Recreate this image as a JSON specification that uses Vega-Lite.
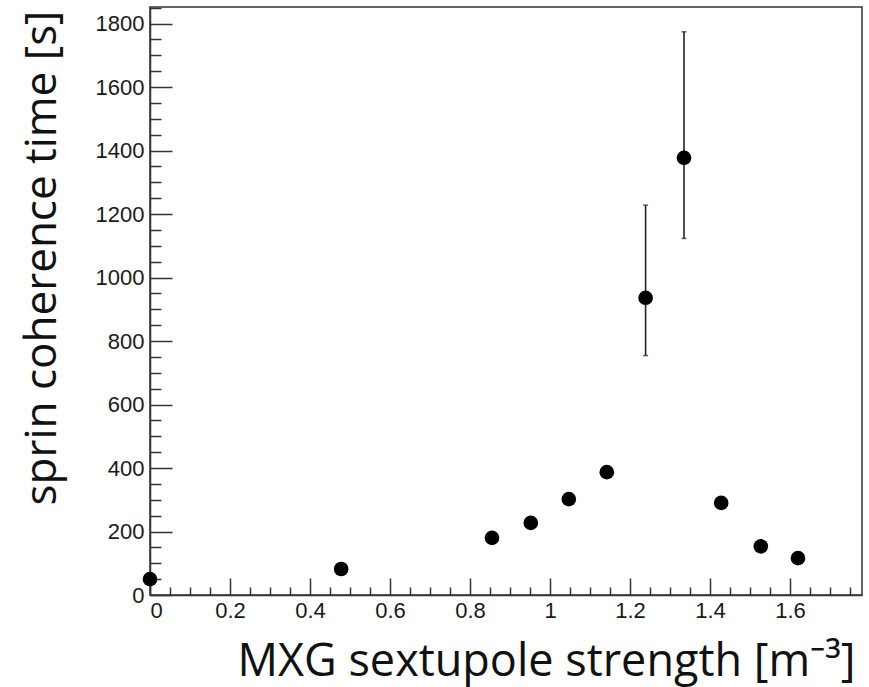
{
  "$schema": "https://vega.github.io/schema/vega-lite/v6.json",
  "width": 712,
  "height": 588,
  "autosize": {"type": "none"},
  "padding": {"left": 150, "top": 7, "right": 7, "bottom": 92},
  "background": "white",
  "config": {
    "view": {"stroke": "#333", "strokeWidth": 1.5},
    "axis": {
      "grid": false,
      "domainColor": "#333",
      "domainWidth": 1.5,
      "tickColor": "#333",
      "tickWidth": 1.5,
      "labelFont": "Liberation Sans",
      "labelFontSize": 22,
      "labelColor": "#1a1a1a",
      "titleFont": "Open Sans",
      "titleFontWeight": "normal",
      "titleColor": "#111"
    }
  },
  "data": {
    "values": [
      {"x": 0.0, "y": 50, "lo": null, "hi": null},
      {"x": 0.478, "y": 82, "lo": null, "hi": null},
      {"x": 0.855, "y": 180, "lo": null, "hi": null},
      {"x": 0.952, "y": 227, "lo": null, "hi": null},
      {"x": 1.047, "y": 302, "lo": null, "hi": null},
      {"x": 1.142, "y": 387, "lo": null, "hi": null},
      {"x": 1.239, "y": 936, "lo": 754, "hi": 1228},
      {"x": 1.335, "y": 1377, "lo": 1123, "hi": 1774},
      {"x": 1.428, "y": 290, "lo": null, "hi": null},
      {"x": 1.527, "y": 153, "lo": null, "hi": null},
      {"x": 1.620, "y": 116, "lo": null, "hi": null}
    ]
  },
  "layer": [
    {
      "transform": [{"filter": "isValid(datum.hi)"}],
      "mark": {"type": "rule", "color": "#222", "strokeWidth": 1.6},
      "encoding": {
        "x": {
          "field": "x", "type": "quantitative",
          "scale": {"domain": [0, 1.78], "nice": false, "zero": false},
          "axis": {
            "orient": "bottom", "title": null, "labels": false, "domain": false,
            "tickSize": -8,
            "values": [0.05,0.1,0.15,0.25,0.3,0.35,0.45,0.5,0.55,0.65,0.7,0.75,0.85,0.9,0.95,1.05,1.1,1.15,1.25,1.3,1.35,1.45,1.5,1.55,1.65,1.7,1.75]
          }
        },
        "y": {
          "field": "lo", "type": "quantitative",
          "scale": {"domain": [0, 1852], "nice": false},
          "axis": {
            "orient": "left", "title": null, "labels": false, "domain": false,
            "tickSize": -11,
            "values": [50,100,150,250,300,350,450,500,550,650,700,750,850,900,950,1050,1100,1150,1250,1300,1350,1450,1500,1550,1650,1700,1750,1850]
          }
        },
        "y2": {"field": "hi"}
      }
    },
    {
      "transform": [{"filter": "isValid(datum.hi)"}],
      "mark": {"type": "tick", "orient": "horizontal", "color": "#222", "size": 5, "thickness": 1.5},
      "encoding": {
        "x": {"field": "x", "type": "quantitative", "axis": null},
        "y": {"field": "hi", "type": "quantitative", "axis": null}
      }
    },
    {
      "transform": [{"filter": "isValid(datum.lo)"}],
      "mark": {"type": "tick", "orient": "horizontal", "color": "#222", "size": 5, "thickness": 1.5},
      "encoding": {
        "x": {"field": "x", "type": "quantitative", "axis": null},
        "y": {"field": "lo", "type": "quantitative", "axis": null}
      }
    },
    {
      "mark": {"type": "point", "filled": true, "shape": "circle", "color": "black", "opacity": 1, "size": 215},
      "encoding": {
        "x": {
          "field": "x", "type": "quantitative",
          "axis": {
            "orient": "bottom",
            "values": [0, 0.2, 0.4, 0.6, 0.8, 1, 1.2, 1.4, 1.6],
            "format": "~g",
            "tickSize": -17,
            "labelPadding": 22,
            "title": "MXG sextupole strength [m⁻³]",
            "titleFontSize": 45,
            "titleAnchor": "end",
            "titleAlign": "right",
            "titleBaseline": "alphabetic",
            "titleX": 705,
            "titleY": 80
          }
        },
        "y": {
          "field": "y", "type": "quantitative",
          "axis": {
            "orient": "left",
            "values": [0, 200, 400, 600, 800, 1000, 1200, 1400, 1600, 1800],
            "format": "d",
            "tickSize": -22,
            "labelPadding": 28,
            "title": "sprin coherence time [s]",
            "titleFontSize": 44,
            "titleAngle": -90,
            "titleAnchor": "end",
            "titleAlign": "right",
            "titleBaseline": "alphabetic",
            "titleX": -95,
            "titleY": 3
          }
        }
      }
    }
  ],
  "resolve": {"axis": {"x": "independent", "y": "independent"}}
}
